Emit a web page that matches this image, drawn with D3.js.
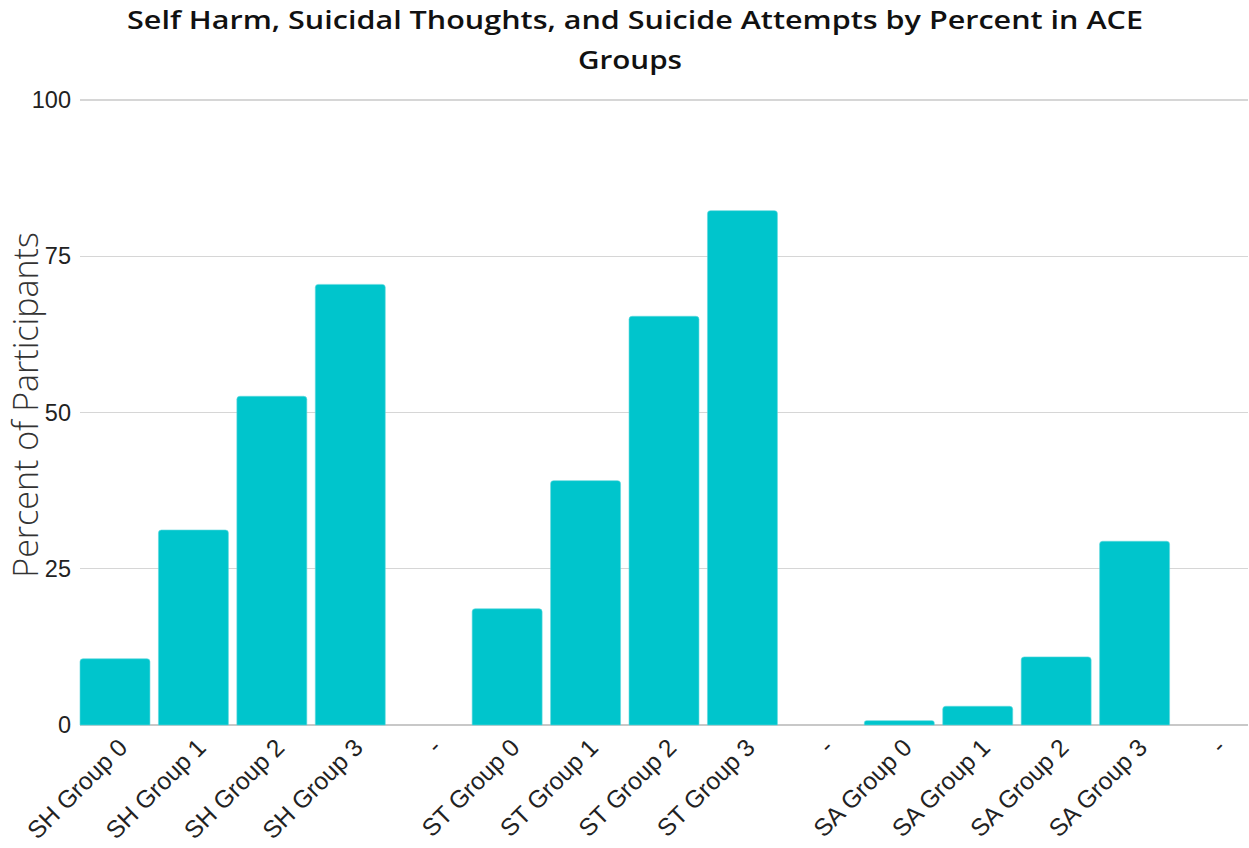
<!DOCTYPE html>
<html>
<head>
<meta charset="utf-8">
<script src="https://cdn.jsdelivr.net/npm/d3@7"></script>
<style>
  html, body { margin: 0; padding: 0; background: #fff; }
  svg { display: block; }
</style>
</head>
<body>
<svg id="chart" width="1249" height="848"></svg>
<script>
// Categories along the x axis ("-" entries are spacer slots between measures)
const categories = [
  "SH Group 0", "SH Group 1", "SH Group 2", "SH Group 3", "-",
  "ST Group 0", "ST Group 1", "ST Group 2", "ST Group 3", "-",
  "SA Group 0", "SA Group 1", "SA Group 2", "SA Group 3", "-"
];
// Percent of participants in each category
const percentValues = [
  10.6, 31.2, 52.6, 70.5, 0,
  18.6, 39.1, 65.4, 82.3, 0,
  0.7, 3.0, 10.9, 29.4, 0
];
const yTicks = [0, 25, 50, 75, 100];
const titleLines = [
  "Self Harm, Suicidal Thoughts, and Suicide Attempts by Percent in ACE",
  "Groups"
];
const yAxisTitle = "Percent of Participants";

const svg = d3.select("#chart");
const margin = { left: 80, right: 1, top: 100, bottom: 123 };
const W = 1249, H = 848;

const x = d3.scaleBand()
  .domain(d3.range(categories.length))
  .range([margin.left, W - margin.right])
  .paddingInner(0.108)
  .paddingOuter(0);

const y = d3.scaleLinear()
  .domain([0, 100])
  .range([H - margin.bottom, margin.top]);

// Title: two centred lines, first line stretched to the title block width
const titleWidths = [1016, 104];
svg.append("g").selectAll("text")
  .data(titleLines)
  .join("text")
  .attr("x", (d, i) => i === 0 ? 635 : 630)
  .attr("y", (d, i) => 29 + i * 40)
  .attr("text-anchor", "middle")
  .attr("font-family", "'Open Sans', sans-serif")
  .attr("font-weight", 600)
  .attr("font-size", 26)
  .attr("fill", "#111")
  .text(d => d)
  .each(function (d, i) {
    const natural = this.getComputedTextLength();
    if (Math.abs(natural - titleWidths[i]) > 2) {
      d3.select(this)
        .attr("textLength", titleWidths[i])
        .attr("lengthAdjust", "spacingAndGlyphs");
    }
  });

// Horizontal grid lines
svg.append("g").selectAll("line")
  .data(yTicks)
  .join("line")
  .attr("x1", margin.left)
  .attr("x2", W - margin.right)
  .attr("y1", d => y(d))
  .attr("y2", d => y(d))
  .attr("stroke", d => d === 0 ? "#c8c8c8" : "#d6d6d6")
  .attr("stroke-width", 1.2)
  .attr("shape-rendering", "crispEdges");

// Y axis tick labels
const yAxis = d3.axisLeft(y).tickValues(yTicks).tickSize(0).tickPadding(9);
const gy = svg.append("g")
  .attr("transform", `translate(${margin.left},0)`)
  .call(yAxis);
gy.select(".domain").remove();
gy.selectAll("text")
  .attr("font-family", "'Liberation Sans', Arial, sans-serif")
  .attr("font-size", 23.5)
  .attr("fill", "#222");

// Y axis title
svg.append("text")
  .attr("transform", `translate(38,${y(51.2)}) rotate(-90)`)
  .attr("text-anchor", "middle")
  .attr("font-family", "'Open Sans', sans-serif")
  .attr("font-weight", 300)
  .attr("font-size", 34)
  .attr("fill", "#333")
  .text(yAxisTitle);

// Bars with slightly rounded top corners
const r = 3;
function barPath(i) {
  const v = percentValues[i];
  const x0 = x(i), w = x.bandwidth();
  const y0 = y(0), y1 = y(v);
  const h = y0 - y1;
  const rr = Math.min(r, h / 2, w / 2);
  return `M${x0},${y0}V${y1 + rr}Q${x0},${y1} ${x0 + rr},${y1}H${x0 + w - rr}Q${x0 + w},${y1} ${x0 + w},${y1 + rr}V${y0}Z`;
}
svg.append("g").selectAll("path")
  .data(d3.range(categories.length).filter(i => percentValues[i] > 0))
  .join("path")
  .attr("d", barPath)
  .attr("fill", "#00c5cc")
  .attr("stroke", "#5fd9de")
  .attr("stroke-width", 0.6);

// X axis labels, rotated
const xAxis = d3.axisBottom(x).tickSize(0).tickPadding(0).tickFormat(i => categories[i]);
const gx = svg.append("g")
  .attr("transform", `translate(0,${y(0)})`)
  .call(xAxis);
gx.select(".domain").remove();
gx.selectAll("text")
  .attr("font-family", "'Liberation Sans', Arial, sans-serif")
  .attr("font-size", 24.5)
  .attr("fill", "#222")
  .attr("text-anchor", "end")
  .attr("dy", null)
  .attr("y", null)
  .attr("transform", "translate(14,24) rotate(-45)");
</script>
</body>
</html>
